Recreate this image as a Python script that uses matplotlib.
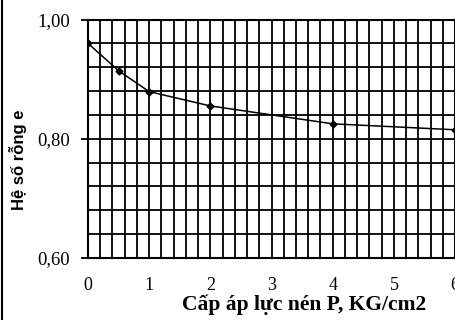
import numpy as np
import matplotlib
matplotlib.use("Agg")
from matplotlib import pyplot as plt
from matplotlib.lines import Line2D

# compression test: void ratio vs load step
p_load = [0, 0.5, 1, 2, 4, 6]
void_ratio = [0.96, 0.914, 0.879, 0.855, 0.825, 0.815]

x_ticks = [0, 1, 2, 3, 4, 5, 6]
x_ticklabels = ["0", "1", "2", "3", "4", "5", "6"]
y_ticks = [0.60, 0.80, 1.00]
y_ticklabels = ["0,60", "0,80", "1,00"]

plt.rcParams["font.family"] = ["Liberation Serif", "DejaVu Serif"]

fig = plt.figure(figsize=(4.56, 3.2), dpi=100)
ax = fig.add_axes([0.193, 0.194, 0.805, 0.745])

# dense grid: every 0.2 on P, every 0.04 on e
for xv in np.arange(0.2, 6.0, 0.2):
    ax.axvline(xv, color="black", lw=1.3, zorder=1)
for yv in np.arange(0.64, 1.0, 0.04):
    ax.axhline(yv, color="black", lw=1.3, zorder=1)

ax.plot(p_load, void_ratio, "-", color="black", lw=1.1, zorder=3)
ax.plot(p_load, void_ratio, "D", color="black", ms=3.5, zorder=4)

ax.set_xlim(0, 6)
ax.set_ylim(0.60, 1.00)
ax.set_xticks(x_ticks)
ax.set_xticklabels(x_ticklabels, fontsize=13)
ax.set_yticks(y_ticks)
ax.set_yticklabels(y_ticklabels, fontsize=13.5)
ax.tick_params(axis="x", length=0, pad=14)
ax.tick_params(axis="y", length=5, width=1.3, pad=8)
for s in ax.spines.values():
    s.set_linewidth(1.5)

fig.text(0.667, 0.047, "Cấp áp lực nén P, KG/cm2", fontsize=15.5,
         fontweight="bold", ha="center", va="center")
fig.text(0.04, 0.5, "Hệ số rỗng e", fontsize=12, fontweight="bold",
         family=["Liberation Sans", "DejaVu Sans"],
         rotation=90, ha="center", va="center")

# scan frame on the left edge
fig.add_artist(Line2D([0.005, 0.005], [0, 1], color="black", lw=1.5,
                      transform=fig.transFigure))

fig.savefig("out.png", dpi=100)
